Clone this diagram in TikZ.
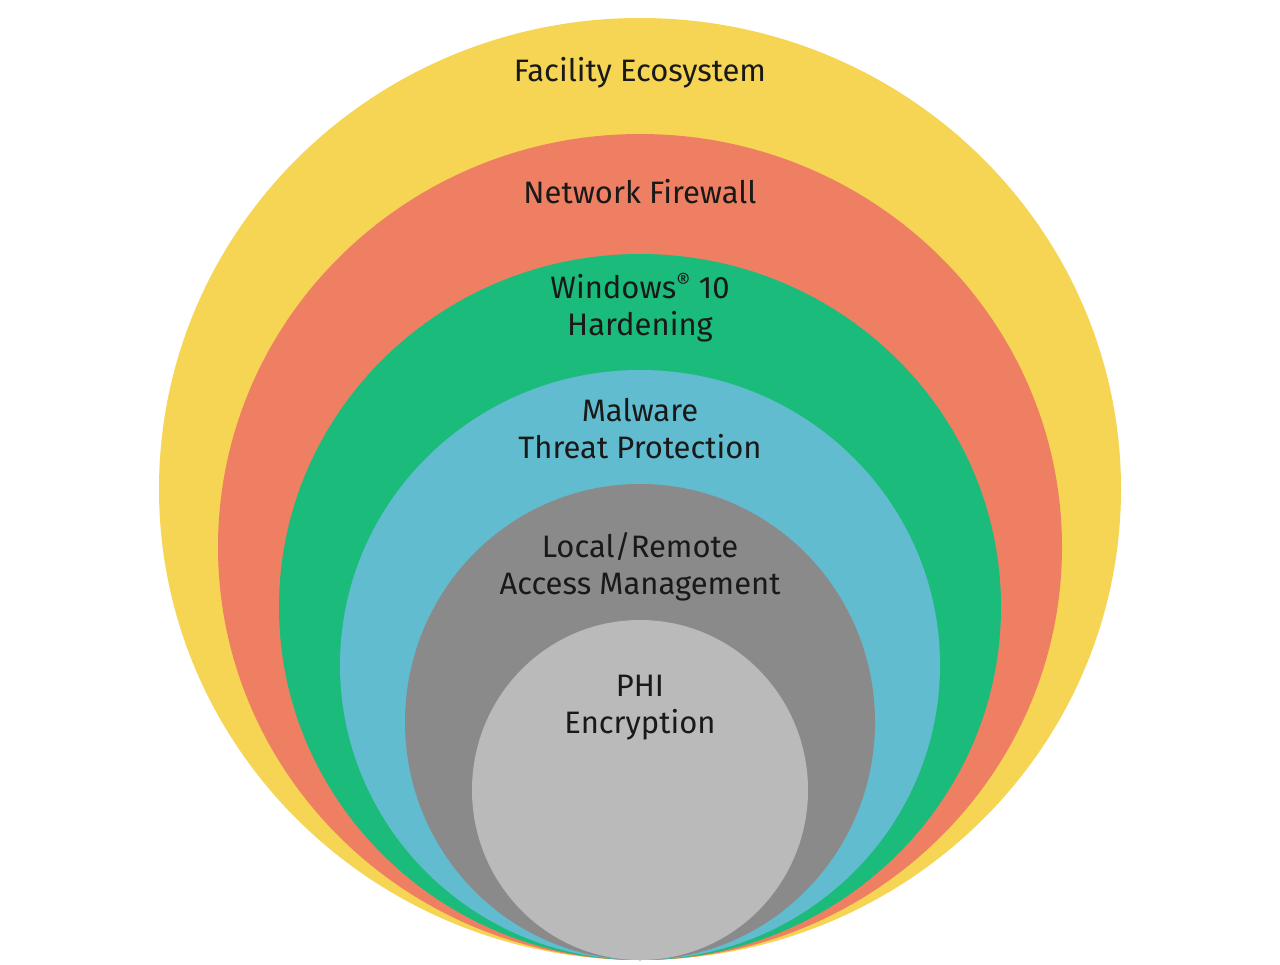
\documentclass[tikz,border=0pt]{standalone}
\usepackage{fontspec}
\setmainfont{Fira Sans}
\definecolor{facility}{HTML}{F5D553}
\definecolor{firewall}{HTML}{EF7F62}
\definecolor{hardening}{HTML}{1ABB7B}
\definecolor{malware}{HTML}{62BCCF}
\definecolor{access}{HTML}{8A8A8A}
\definecolor{phi}{HTML}{BABABA}
\begin{document}
\begin{tikzpicture}[x=1pt,y=-1pt,
    layer/.style={font=\fontsize{31}{37}\selectfont\mdseries, align=center, text=black!90}]
    \useasboundingbox (0,0) rectangle (1280,965);
    \fill[white] (0,0) rectangle (1280,965);
    % Rings, all touching at the bottom
    \foreach \col/\rx/\ry in {facility/481/471,firewall/422/413,hardening/361/353,malware/300/295,access/235/238,phi/168/170} {
        \fill[\col] (640,960-\ry) ellipse [x radius=\rx pt, y radius=\ry pt];
    }
    % Labels
    \node[layer] (Facility) at (640,73) {Facility Ecosystem};
    \node[layer] (Firewall) at (640,192) {Network Firewall};
    \node[layer] (Hardening) at (640,308) {Windows\textsuperscript{\textregistered} 10\\Hardening};
    \node[layer] (Malware) at (640,429) {Malware\\Threat Protection};
    \node[layer] (Access) at (640,567) {Local/Remote\\Access Management};
    \node[layer] (Phi) at (640,708) {PHI\\Encryption};
\end{tikzpicture}
\end{document}
